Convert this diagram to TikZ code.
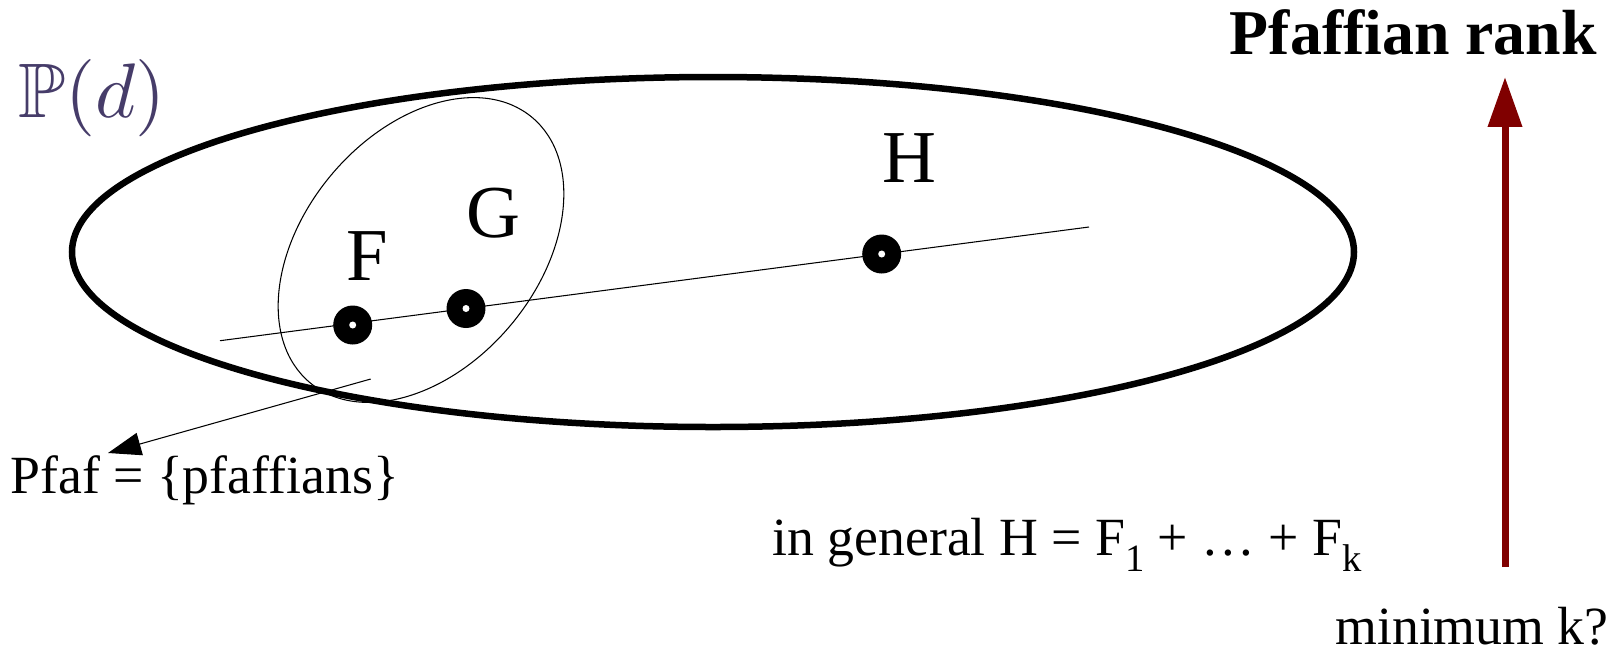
\documentclass[tikz,border=0pt]{standalone}
\usepackage{amssymb}
\usepackage[no-math]{fontspec}
\setmainfont{Liberation Serif}
\usetikzlibrary{arrows.meta}
\definecolor{rankred}{RGB}{128,0,0}
\definecolor{pdcol}{RGB}{70,60,105}
\newcommand{\lowsub}[1]{\raisebox{-0.3em}{\fontsize{22pt}{22pt}\selectfont #1}}
\tikzset{
  dot/.style={circle,fill=black,inner sep=0pt,minimum size=0.78cm},
  lbl/.style={inner sep=0pt,font=\fontsize{42.5pt}{42.5pt}\selectfont},
  txt/.style={inner sep=0pt,font=\fontsize{30.6pt}{30.6pt}\selectfont},
  thinline/.style={line width=0.6pt},
}
\begin{document}
\begin{tikzpicture}[x=0.02cm,y=-0.02cm]
\useasboundingbox (0,0) rectangle (1614,654);
% big ellipse
\draw[line width=3.7pt] (713,252) ellipse[x radius=641,y radius=175];
% small tilted ellipse
\draw[thinline,rotate around={50:(421,250)}] (421,250) ellipse[x radius=173,y radius=117];
% line through points
\coordinate (L1) at (220,340.7);
\coordinate (L2) at (1089,227);
\draw[thinline] (L1) -- (L2);
% dots
\node[dot] (F) at (352.7,325) {};
\node[dot] (G) at (466,308.5) {};
\node[dot] (H) at (881.7,254) {};
\fill[white] (F.center) circle (3.5);
\fill[white] (G.center) circle (3.5);
\fill[white] (H.center) circle (3.5);
% labels
\node[lbl,anchor=base] (Fl) at (367,280) {F};
\node[lbl,anchor=base] (Gl) at (493,237) {G};
\node[lbl,anchor=base] (Hl) at (909,182) {H};
% P(d)
\node[inner sep=0pt,anchor=base west,text=pdcol] (Pd) at (18,117) {\scalebox{4.4}{$\mathbb{P}(d)$}};
% Pfaf arrow
\coordinate (PA) at (370.7,379);
\coordinate (PT) at (108,453);
\draw[thinline,-{Triangle[length=0.66cm,width=0.46cm]}] (PA) -- (PT);
\node[txt,anchor=base west] (pfaf) at (10,493) {Pfaf = \{pfaffians\}};
% general text
\node[txt,anchor=base west] (gen) at (772,555) {in general H = F\lowsub{1} + … + F\lowsub{k}};
% rank arrow
\coordinate (RB) at (1505,567);
\coordinate (RT) at (1505,77);
\draw[rankred,line width=0.14cm,-{Triangle[length=1cm,width=0.66cm]}] (RB) -- (RT);
\node[inner sep=0pt,anchor=base east,font=\bfseries\fontsize{36.3pt}{36.3pt}\selectfont] (rank) at (1597,54) {Pfaffian rank};
\node[txt,anchor=base west,text depth=0pt] (mink) at (1335,644) {minimum k?};
\end{tikzpicture}
\end{document}
